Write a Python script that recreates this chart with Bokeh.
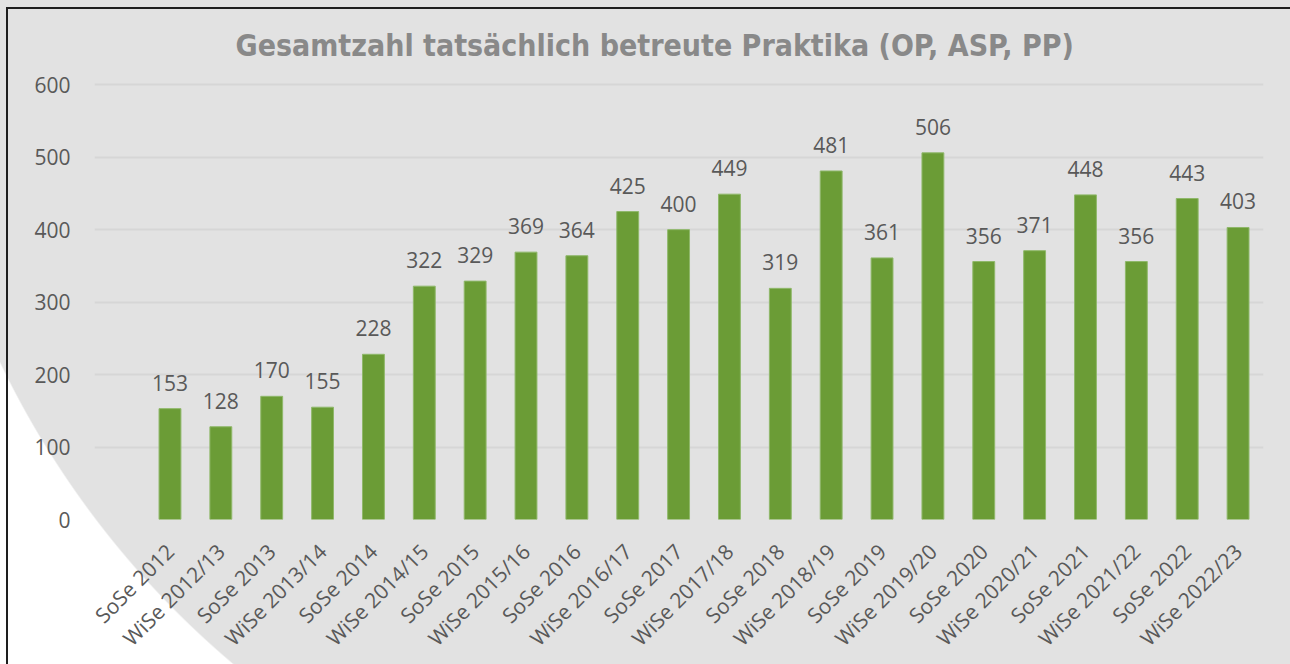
import math
from bokeh.plotting import figure
from bokeh.models import Range1d, FixedTicker, ColumnDataSource
from bokeh.core.properties import value
from bokeh.embed import file_html
from bokeh.resources import INLINE

# ---- data ----
semesters = ["SoSe 2012", "WiSe 2012/13", "SoSe 2013", "WiSe 2013/14", "SoSe 2014",
             "WiSe 2014/15", "SoSe 2015", "WiSe 2015/16", "SoSe 2016", "WiSe 2016/17",
             "SoSe 2017", "WiSe 2017/18", "SoSe 2018", "WiSe 2018/19", "SoSe 2019",
             "WiSe 2019/20", "SoSe 2020", "WiSe 2020/21", "SoSe 2021", "WiSe 2021/22",
             "SoSe 2022", "WiSe 2022/23"]
praktika = [153, 128, 170, 155, 228, 322, 329, 369, 364, 425, 400, 449, 319, 481,
            361, 506, 356, 371, 448, 356, 443, 403]
y_ticks = [0, 100, 200, 300, 400, 500, 600]
title_text = "Gesamtzahl tatsächlich betreute Praktika (OP, ASP, PP)"

BG = "#e2e2e2"
GREEN = "#6b9c36"
TXT = "#595959"
FONT = "'Open Sans', 'Noto Sans', sans-serif"

W, H = 1290, 664
idx = list(range(len(semesters)))

p = figure(width=W, height=H, output_backend="svg", toolbar_location=None,
           x_range=Range1d(-1.484, 21.5), y_range=Range1d(0, 610),
           min_border_left=94, min_border_right=27, min_border_top=77, min_border_bottom=143)
# transparent canvas; decorative background (white sweep + frame lines) via CSS on the host element
p.background_fill_alpha = 0
p.border_fill_alpha = 0
p.outline_line_color = None
p.styles = {
    "background": (
        "linear-gradient(#1e1e1e, #1e1e1e) 6px 7px / 2px 100% no-repeat, "
        "linear-gradient(#1e1e1e, #1e1e1e) 6px 7px / 100% 2px no-repeat, "
        "radial-gradient(circle 907px at 818px -29px, " + BG + " 906px, #ffffff 907.5px)"
    )
}

# grid
p.xgrid.grid_line_color = None
p.ygrid.grid_line_color = "#d6d6d6"
p.ygrid.grid_line_width = 2

# axes
p.yaxis.ticker = FixedTicker(ticks=y_ticks)
p.yaxis.axis_line_color = None
p.yaxis.major_tick_line_color = None
p.yaxis.minor_tick_line_color = None
p.yaxis.major_tick_out = 0
p.yaxis.major_label_standoff = 24
p.yaxis.major_label_text_font = FONT
p.yaxis.major_label_text_font_size = "21px"
p.yaxis.major_label_text_color = TXT

p.xaxis.ticker = FixedTicker(ticks=idx)
p.xaxis.major_label_overrides = {i: s for i, s in zip(idx, semesters)}
p.xaxis.major_label_orientation = math.pi / 4
p.xaxis.axis_line_color = None
p.xaxis.major_tick_line_color = None
p.xaxis.minor_tick_line_color = None
p.xaxis.major_tick_out = 0
p.xaxis.major_label_standoff = 28
p.xaxis.major_label_text_font = FONT
p.xaxis.major_label_text_font_size = "21px"
p.xaxis.major_label_text_color = TXT

src = ColumnDataSource(dict(x=idx, top=praktika, lbl=[str(v) for v in praktika]))
p.vbar(x="x", top="top", bottom=0, width=0.43, source=src,
       fill_color=GREEN, line_color="#8fb86a", line_width=1)
p.text(x="x", y="top", text="lbl", source=src, text_align="center", text_baseline="alphabetic",
       y_offset=-26, text_font=value(FONT), text_font_size="21px", text_color=TXT)

p.title.text = title_text
p.title.align = "left"
p.title.offset = 141
p.title.text_font = "'DejaVu Sans Condensed', sans-serif"
p.title.text_font_style = "bold"
p.title.text_font_size = "30px"
p.title.text_color = "#898989"
p.title.standoff = 30

open("out.html", "w").write(file_html(p, INLINE))
